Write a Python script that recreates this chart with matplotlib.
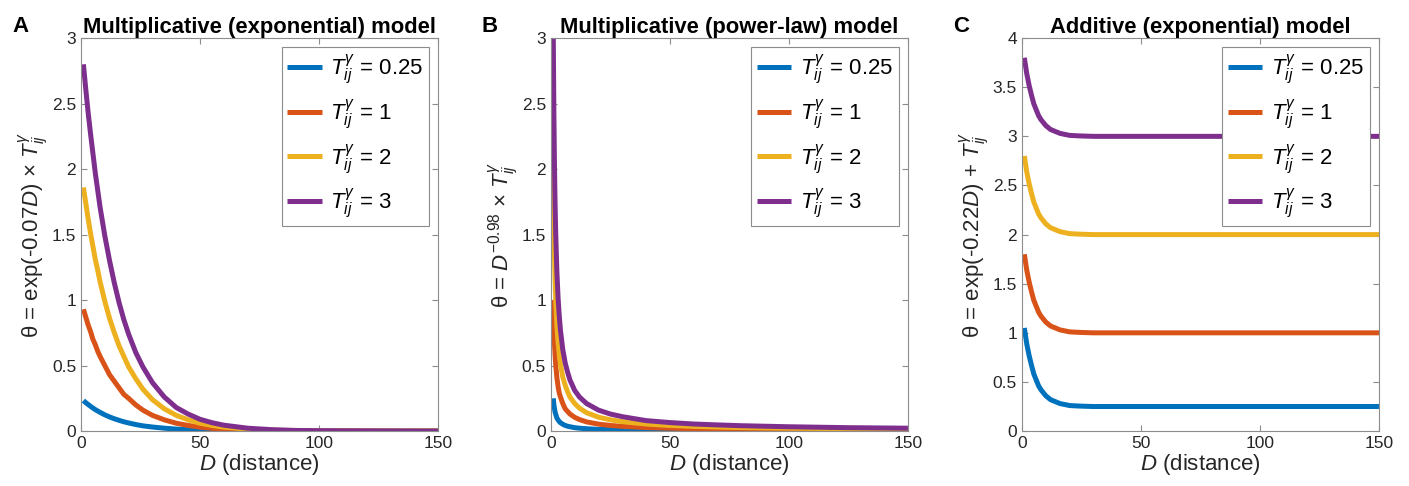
import matplotlib
matplotlib.use('Agg')
import matplotlib.pyplot as plt
from matplotlib.ticker import FuncFormatter

plt.rcParams['font.family'] = ['Liberation Sans', 'DejaVu Sans']
plt.rcParams['mathtext.fontset'] = 'custom'
plt.rcParams['mathtext.rm'] = 'Liberation Sans'
plt.rcParams['mathtext.it'] = 'Liberation Sans:italic'
plt.rcParams['mathtext.bf'] = 'Liberation Sans:bold'

# distances
D_exp = [1, 2, 3, 4, 5, 6, 7, 8, 10, 12, 14, 16, 18, 20, 23, 26, 30, 35, 40, 45,
         50, 55, 60, 70, 80, 90, 100, 125, 150]
D_pow = [1, 1.25, 1.5, 1.75, 2, 2.5, 3, 3.5, 4, 5, 6, 7, 8, 10, 12, 15, 20, 25, 30,
         40, 50, 60, 70, 80, 100, 125, 150]
D_add = [1, 2, 3, 4, 5, 6, 7, 8, 10, 12, 14, 16, 18, 20, 23, 26, 30, 40, 150]

t_labels = ['0.25', '1', '2', '3']
colors = ['#0072BD', '#D95319', '#EDB120', '#7E2F8E']

# panel A: multiplicative exponential
mult_exp = [
    [0.233, 0.217, 0.203, 0.189, 0.176, 0.164, 0.153, 0.143, 0.124, 0.108, 0.094, 0.082, 0.071, 0.062,
     0.050, 0.040, 0.031, 0.022, 0.015, 0.011, 0.0076, 0.0053, 0.0037, 0.0018, 0.0009, 0.0005, 0.0002, 0.0, 0.0],
    [0.93, 0.87, 0.81, 0.76, 0.70, 0.66, 0.61, 0.57, 0.50, 0.43, 0.38, 0.33, 0.28, 0.25,
     0.20, 0.16, 0.12, 0.086, 0.06, 0.043, 0.03, 0.021, 0.015, 0.007, 0.004, 0.002, 0.001, 0.0, 0.0],
    [1.86, 1.74, 1.62, 1.51, 1.41, 1.31, 1.23, 1.14, 0.99, 0.86, 0.75, 0.65, 0.57, 0.49,
     0.40, 0.32, 0.24, 0.17, 0.12, 0.086, 0.06, 0.043, 0.03, 0.015, 0.007, 0.004, 0.002, 0.0, 0.0],
    [2.80, 2.61, 2.43, 2.27, 2.12, 1.97, 1.84, 1.71, 1.49, 1.30, 1.13, 0.98, 0.85, 0.74,
     0.60, 0.49, 0.37, 0.26, 0.18, 0.13, 0.09, 0.064, 0.045, 0.022, 0.011, 0.005, 0.003, 0.001, 0.0],
]

# panel B: multiplicative power-law
mult_pow = [
    [0.25, 0.20, 0.17, 0.145, 0.13, 0.10, 0.085, 0.073, 0.064, 0.052, 0.043, 0.037, 0.033, 0.026,
     0.022, 0.018, 0.013, 0.011, 0.009, 0.007, 0.005, 0.0045, 0.004, 0.0034, 0.0028, 0.0022, 0.0019],
    [1.0, 0.80, 0.67, 0.58, 0.51, 0.41, 0.34, 0.29, 0.26, 0.21, 0.17, 0.15, 0.13, 0.105,
     0.088, 0.07, 0.053, 0.043, 0.036, 0.027, 0.022, 0.018, 0.016, 0.014, 0.011, 0.009, 0.007],
    [2.0, 1.61, 1.34, 1.16, 1.01, 0.81, 0.68, 0.59, 0.51, 0.41, 0.35, 0.30, 0.26, 0.21,
     0.175, 0.14, 0.106, 0.086, 0.072, 0.054, 0.043, 0.036, 0.031, 0.027, 0.022, 0.018, 0.015],
    [3.0, 2.41, 2.02, 1.73, 1.52, 1.22, 1.02, 0.88, 0.77, 0.62, 0.52, 0.45, 0.39, 0.31,
     0.26, 0.21, 0.16, 0.13, 0.11, 0.08, 0.065, 0.054, 0.047, 0.041, 0.033, 0.026, 0.022],
]

# panel C: additive exponential
add_exp = [
    [1.05, 0.89, 0.77, 0.67, 0.58, 0.52, 0.46, 0.42, 0.36, 0.32, 0.30, 0.28, 0.27, 0.26,
     0.256, 0.253, 0.25, 0.25, 0.25],
    [1.80, 1.64, 1.52, 1.42, 1.33, 1.27, 1.21, 1.17, 1.11, 1.07, 1.05, 1.03, 1.02, 1.01,
     1.006, 1.003, 1.0, 1.0, 1.0],
    [2.80, 2.64, 2.52, 2.42, 2.33, 2.27, 2.21, 2.17, 2.11, 2.07, 2.05, 2.03, 2.02, 2.01,
     2.006, 2.003, 2.0, 2.0, 2.0],
    [3.80, 3.64, 3.52, 3.42, 3.33, 3.27, 3.21, 3.17, 3.11, 3.07, 3.05, 3.03, 3.02, 3.01,
     3.006, 3.003, 3.0, 3.0, 3.0],
]

panels = [
    ('A', 'Multiplicative (exponential) model', D_exp, mult_exp, 3,
     r'θ = exp(-0.07$D$) $\times$ $T_{ij}^{\gamma}$', 0.0575),
    ('B', 'Multiplicative (power-law) model', D_pow, mult_pow, 3,
     r'θ = $D^{\mathrm{-0.98}}$ $\times$ $T_{ij}^{\gamma}$', 0.391),
    ('C', 'Additive (exponential) model', D_add, add_exp, 4,
     r'θ = exp(-0.22$D$) + $T_{ij}^{\gamma}$', 0.7253),
]

edge = '#8c8c8c'
txt = '#262626'

fig = plt.figure(figsize=(14.09, 4.86), dpi=100)

for letter, title, D, series, ymax, ylab, left in panels:
    ax = fig.add_axes([left, 0.113, 0.2534, 0.8086])
    for vals, lab, c in zip(series, t_labels, colors):
        ax.plot(D, vals, color=c, lw=3.6, solid_capstyle='butt',
                solid_joinstyle='round', label=r'$T_{ij}^{\gamma}$ = ' + lab)
    ax.set_xlim(0, 150)
    ax.set_ylim(0, ymax)
    ax.set_xticks([0, 50, 100, 150])
    ax.set_yticks([i * 0.5 for i in range(int(ymax * 2) + 1)])
    ax.yaxis.set_major_formatter(FuncFormatter(lambda v, p: '%g' % v))
    ax.tick_params(direction='in', top=True, right=True, length=4,
                   labelsize=12.5, colors=edge, labelcolor=txt, width=0.8)
    for s in ax.spines.values():
        s.set_color(edge)
        s.set_linewidth(0.8)
    ax.set_xlabel(r'$D$ (distance)', fontsize=16, color=txt, labelpad=1)
    ax.set_ylabel(ylab, fontsize=16, color=txt, labelpad=1)
    ax.set_title(title, fontsize=15.8, fontweight='bold', pad=4)
    leg = ax.legend(loc='upper right', bbox_to_anchor=(0.975, 0.977),
                    borderaxespad=0, fontsize=16, handlelength=1.55,
                    handletextpad=0.4, labelspacing=0.5, fancybox=False,
                    framealpha=1, edgecolor=edge, borderpad=0.25)
    leg.get_frame().set_linewidth(0.8)
    fig.text(left - 0.049, 0.935, letter, fontsize=16, fontweight='bold')

fig.savefig('out.png', dpi=100)
